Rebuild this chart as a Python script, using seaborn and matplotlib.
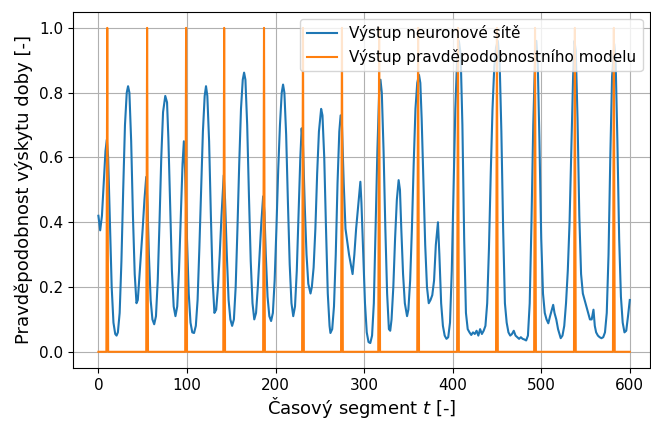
import matplotlib.pyplot as plt
import seaborn as sns
import numpy as np

# neural network output (segment, probability)
nn_t = [0, 2, 4, 6, 8, 9.5, 11, 13, 15, 17, 19, 20.5, 22, 24, 26, 28, 30, 32, 33.5, 35,
        37, 39, 41, 43, 44.5, 46, 48, 50, 52, 54, 55.5, 57, 59, 61, 63, 65, 67, 69, 71, 73,
        75.5, 77.5, 79, 81, 83, 85, 87, 89, 91, 93, 95, 96.5, 98, 100, 102, 104, 106, 108, 110, 112,
        114, 116, 118, 120, 121.5, 123, 125, 127, 129, 131, 133, 135, 137, 139, 141.5, 143, 145, 147, 149, 151,
        153, 155, 157, 159, 161, 163, 164.5, 166, 168, 170, 172, 174, 176, 178, 180, 182, 184, 186, 187.5, 189,
        191, 193, 195, 197, 199, 201, 203, 205, 207, 208.5, 210, 212, 214, 216, 218, 220, 222, 224, 226, 228,
        229.5, 231, 233, 235, 237, 239.5, 241, 243, 245, 247, 249, 251.5, 253, 255, 257, 259, 261, 262, 264, 266,
        268, 270, 272, 273.5, 275, 277, 279, 281, 283, 285, 287, 289, 291, 293, 295.8, 297, 299, 301, 303, 305,
        307, 309, 311, 313, 315, 317, 318.5, 320, 322, 324, 326, 328, 329.5, 331, 333, 335, 337, 339, 340.5, 342,
        344, 346, 348.5, 350, 352, 354, 356, 358, 360, 362, 363.5, 365, 367, 369, 371, 373, 375, 377, 379, 381,
        383.4, 385, 387, 389, 391, 393, 395, 397, 399, 401, 403, 405, 407, 409, 411, 413, 415, 417, 419, 421,
        423, 425, 427, 429, 431, 433, 435, 437, 439, 441, 443, 445, 447, 449, 451, 453, 455, 457, 459, 461,
        463, 465, 467, 469, 471, 473, 475, 477, 479, 481, 483, 485, 487, 489, 491, 493, 494.5, 496, 498, 500,
        502, 504, 506, 508, 510, 513.5, 515, 517, 519, 522, 524, 526, 528, 530, 532, 534, 536, 537.5, 539, 541,
        543, 545, 547, 549, 551, 553, 555, 557, 559, 560.5, 562, 564, 566, 568, 570, 572, 574, 576, 578, 580,
        582.5, 584, 586, 588, 590, 592, 594, 596, 598, 600]
nn_p = [0.42, 0.375, 0.42, 0.52, 0.62, 0.655, 0.6, 0.4, 0.2, 0.09, 0.055, 0.05, 0.06, 0.12, 0.28, 0.5, 0.7, 0.8, 0.82, 0.8,
        0.65, 0.42, 0.24, 0.15, 0.16, 0.22, 0.3, 0.38, 0.47, 0.54, 0.45, 0.3, 0.16, 0.1, 0.085, 0.11, 0.22, 0.4, 0.6, 0.74,
        0.79, 0.77, 0.66, 0.45, 0.25, 0.14, 0.11, 0.14, 0.25, 0.42, 0.58, 0.65, 0.55, 0.35, 0.18, 0.09, 0.06, 0.058, 0.08, 0.16,
        0.32, 0.5, 0.68, 0.79, 0.82, 0.79, 0.65, 0.42, 0.22, 0.12, 0.13, 0.2, 0.3, 0.42, 0.545, 0.47, 0.3, 0.16, 0.1, 0.08,
        0.1, 0.2, 0.38, 0.58, 0.75, 0.84, 0.862, 0.84, 0.7, 0.48, 0.28, 0.15, 0.1, 0.12, 0.2, 0.3, 0.4, 0.48, 0.43, 0.3,
        0.17, 0.11, 0.095, 0.12, 0.22, 0.38, 0.56, 0.7, 0.8, 0.825, 0.8, 0.67, 0.46, 0.27, 0.15, 0.11, 0.14, 0.25, 0.42, 0.6,
        0.69, 0.64, 0.45, 0.3, 0.21, 0.18, 0.2, 0.26, 0.38, 0.55, 0.68, 0.75, 0.73, 0.6, 0.38, 0.18, 0.08, 0.058, 0.07, 0.14,
        0.3, 0.52, 0.68, 0.73, 0.7, 0.52, 0.38, 0.34, 0.3, 0.27, 0.24, 0.3, 0.38, 0.44, 0.525, 0.46, 0.3, 0.15, 0.06, 0.03,
        0.027, 0.05, 0.15, 0.38, 0.62, 0.8, 0.84, 0.8, 0.62, 0.38, 0.18, 0.07, 0.065, 0.1, 0.2, 0.35, 0.47, 0.53, 0.5, 0.38,
        0.24, 0.15, 0.11, 0.13, 0.22, 0.38, 0.58, 0.75, 0.83, 0.855, 0.83, 0.72, 0.52, 0.33, 0.2, 0.15, 0.16, 0.175, 0.22, 0.33,
        0.4, 0.3, 0.15, 0.08, 0.05, 0.04, 0.045, 0.09, 0.25, 0.5, 0.75, 0.9, 0.96, 0.92, 0.7, 0.35, 0.12, 0.07, 0.06, 0.052,
        0.06, 0.055, 0.065, 0.05, 0.07, 0.055, 0.065, 0.08, 0.15, 0.32, 0.55, 0.75, 0.88, 0.94, 0.96, 0.9, 0.68, 0.38, 0.15, 0.09,
        0.06, 0.05, 0.055, 0.065, 0.05, 0.045, 0.04, 0.045, 0.04, 0.038, 0.035, 0.05, 0.15, 0.4, 0.7, 0.9, 0.96, 0.9, 0.65, 0.35,
        0.18, 0.12, 0.1, 0.088, 0.11, 0.145, 0.12, 0.1, 0.07, 0.042, 0.05, 0.08, 0.15, 0.25, 0.4, 0.62, 0.85, 0.96, 0.93, 0.72,
        0.42, 0.24, 0.18, 0.16, 0.14, 0.12, 0.1, 0.1, 0.13, 0.08, 0.06, 0.05, 0.045, 0.042, 0.045, 0.06, 0.12, 0.3, 0.6, 0.85,
        0.95, 0.9, 0.65, 0.35, 0.17, 0.09, 0.06, 0.065, 0.11, 0.16]

# probabilistic model output: 1 at these segments, 0 elsewhere
n_segments = 601
spike_segments = [10, 55, 99, 142, 187, 231, 275, 317, 361, 406, 450, 493, 538, 582]

model_t = np.arange(n_segments)
model_p = np.zeros(n_segments)
model_p[spike_segments] = 1.0

fig = plt.figure(figsize=(6.51, 4.21), dpi=100)
ax = fig.add_axes([0.1117, 0.1259, 0.887, 0.8463])

sns.lineplot(x=nn_t, y=nn_p, ax=ax, color='#1f77b4', linewidth=1.5,
             label='Výstup neuronové sítě')
sns.lineplot(x=model_t, y=model_p, ax=ax, color='#ff7f0e', linewidth=1.5,
             label='Výstup pravděpodobnostního modelu')

ax.set_xlim(-29, 623)
ax.set_ylim(-0.05, 1.05)
ax.set_xticks([0, 100, 200, 300, 400, 500, 600])
ax.set_yticks([0.0, 0.2, 0.4, 0.6, 0.8, 1.0])
ax.tick_params(labelsize=11)
ax.grid(True, color='#b0b0b0', linewidth=0.8)
ax.set_xlabel('Časový segment $t$ [-]', fontsize=13, labelpad=2)
ax.set_ylabel('Pravděpodobnost výskytu doby [-]', fontsize=13)
ax.legend(loc='upper right', fontsize=11)

fig.savefig('out.png', dpi=100)
